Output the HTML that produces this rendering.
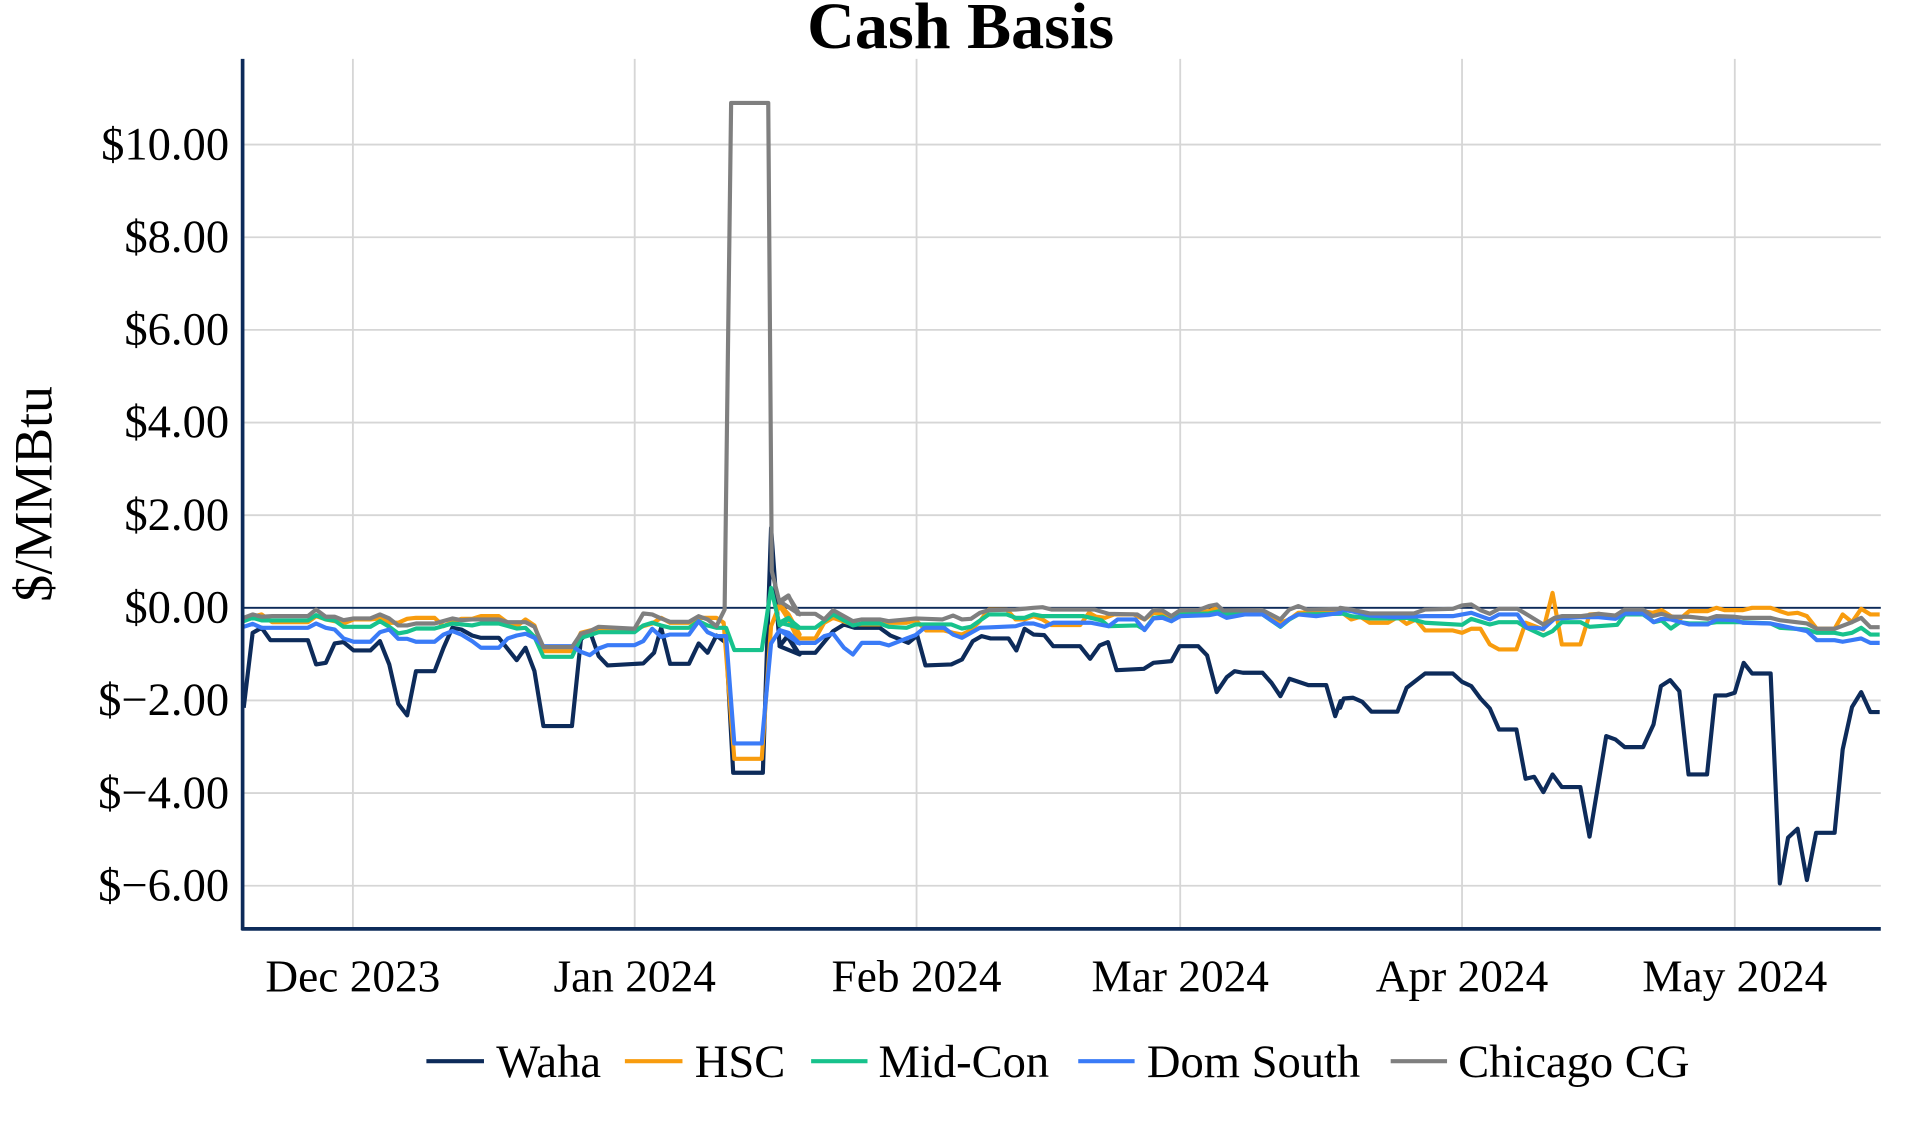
<!DOCTYPE html>
<html><head><meta charset="utf-8"><style>
html,body{margin:0;padding:0;background:#fff;}
svg{display:block;}
text{font-family:"Liberation Serif",serif;fill:#000;}
</style></head><body>
<svg id="s" width="1920" height="1128" viewBox="0 0 1567 920.5" preserveAspectRatio="none" xmlns="http://www.w3.org/2000/svg">
<g id="grid" stroke="#d6d6d6" stroke-width="1.5"></g>
<line x1="198" y1="496" x2="1535" y2="496" stroke="#0d2b5a" stroke-width="1.5"/>
<g id="series" fill="none" stroke-width="3.4" stroke-linejoin="round"></g>
<line x1="198" y1="48" x2="198" y2="759" stroke="#0d2b5a" stroke-width="3"/>
<line x1="197" y1="758" x2="1535" y2="758" stroke="#0d2b5a" stroke-width="3"/>
<text x="784" y="39" text-anchor="middle" font-size="54" font-weight="bold">Cash Basis</text>
<text transform="translate(42,403) rotate(-90)" text-anchor="middle" font-size="44">$/MMBtu</text>
<g id="ylab" font-size="38" text-anchor="end"></g>
<g id="xlab" font-size="37" text-anchor="middle"></g>
<g font-size="38">
<line x1="348" y1="866" x2="395" y2="866" stroke="#0d2b5a" stroke-width="3.4"/><text x="405" y="879">Waha</text>
<line x1="510" y1="866" x2="557" y2="866" stroke="#f89c0e" stroke-width="3.4"/><text x="567" y="879">HSC</text>
<line x1="662" y1="866" x2="708" y2="866" stroke="#17c28c" stroke-width="3.4"/><text x="717" y="879">Mid-Con</text>
<line x1="880" y1="866" x2="926" y2="866" stroke="#3a7bf7" stroke-width="3.4"/><text x="936" y="879">Dom South</text>
<line x1="1135" y1="866" x2="1181" y2="866" stroke="#7f7f7f" stroke-width="3.4"/><text x="1190" y="879">Chicago CG</text>
</g>
</svg>
<script>
var NS="http://www.w3.org/2000/svg";
function el(t,a,p,txt){var e=document.createElementNS(NS,t);for(var k in a)e.setAttribute(k,a[k]);if(txt)e.textContent=txt;p.appendChild(e);return e;}
var grid=document.getElementById('grid'),yl=document.getElementById('ylab'),xl=document.getElementById('xlab');
function Y(v){return 496-v*37.8;}
function X(d){return 288+d*7.42;}
for(var v=10;v>=-6;v-=2){var y=Y(v);el('line',{x1:198,y1:y,x2:1535,y2:y},grid);
 var s=v<0?"$\u2212"+Math.abs(v).toFixed(2):"$"+v.toFixed(2);el('text',{x:187,y:y+12},yl,s);}
var months=[["Dec 2023",0],["Jan 2024",31],["Feb 2024",62],["Mar 2024",91],["Apr 2024",122],["May 2024",152]];
months.forEach(function(m){var x=X(m[1]);el('line',{x1:x,y1:48,x2:x,y2:758},grid);el('text',{x:x,y:809},xl,m[0]);});
function c2(p){return [(p[0]-316)/25.48,-(p[1]-265)/139];}
function c3(p){return [62+(p[0]-383)/25.41,-(p[1]-265)/139];}
function c4(p){return [122+(p[0]-330)/24.6,-(p[1]-265)/139];}
function build(a,b,c){var pts=[];a.forEach(function(p){pts.push(c2(p));});b.forEach(function(p){pts.push(c3(p));});c.forEach(function(p){pts.push(c4(p));});
 pts=pts.filter(function(p){return X(p[0])>=197&&X(p[0])<=1536;});
 return pts.map(function(p,i){return (i?"L":"M")+X(p[0]).toFixed(1)+","+Y(p[1]).toFixed(1);}).join("");}
var S={};
S.waha=[[[10,565],[35,340],[60,325],[85,362],[190,362],[213,435],[240,430],[265,372],[290,368],[318,393],[365,393],[392,365],[418,435],[443,553],[468,588],[493,455],[545,455],[570,385],[595,325],[620,330],[650,348],[675,355],[725,355],[775,422],[800,385],[825,455],[850,620],[930,620],[955,360],[980,335],[1005,410],[1030,438],[1130,432],[1160,400],[1180,325],[1205,433],[1258,433],[1285,372],[1310,400],[1335,348],[1362,370],[1382,760],[1465,760],[1488,25],[1512,380],[1535,350],[1568,405]],
[[0,380],[22,350],[50,400],[100,400],[150,335],[180,315],[210,325],[280,325],[310,348],[360,370],[385,348],[408,438],[480,435],[510,420],[540,365],[565,350],[590,357],[640,357],[662,393],[685,328],[710,345],[740,347],[765,380],[840,380],[868,418],[895,378],[918,368],[942,452],[1018,448],[1045,430],[1095,425],[1118,380],[1170,380],[1195,408],[1222,518],[1250,473],[1272,455],[1295,460],[1350,460],[1375,490],[1400,530],[1425,478],[1478,497],[1528,497],[1553,590],[1568,545]],
[[0,565],[10,537],[35,535],[60,547],[85,577],[155,577],[180,505],[230,462],[305,462],[330,487],[355,500],[380,537],[405,567],[430,630],[477,630],[502,778],[525,772],[550,818],[575,765],[600,803],[650,803],[675,952],[720,650],[745,660],[770,683],[820,683],[848,615],[868,500],[893,482],[918,515],[943,765],[993,765],[1015,528],[1045,528],[1068,520],[1092,430],[1115,462],[1165,462],[1190,1092],[1212,955],[1238,928],[1263,1082],[1288,940],[1338,940],[1360,690],[1385,563],[1410,518],[1435,578],[1460,578]]];
S.hsc=[[[10,300],[35,292],[60,285],[90,308],[190,308],[213,290],[240,300],[265,305],[290,312],[318,300],[365,300],[392,297],[418,310],[443,310],[468,298],[493,295],[545,295],[570,320],[595,308],[620,298],[650,298],[675,290],[725,290],[750,310],[775,320],[800,300],[825,318],[850,395],[930,395],[955,340],[980,333],[1005,330],[1105,330],[1130,320],[1155,312],[1180,295],[1205,310],[1258,310],[1285,295],[1335,295],[1355,310],[1385,718],[1462,718],[1488,320],[1512,255],[1537,285],[1568,345]],
[[0,258],[25,300],[50,357],[100,357],[125,310],[150,295],[205,315],[280,315],[305,310],[355,310],[380,302],[410,333],[460,333],[485,340],[510,345],[535,332],[560,305],[585,270],[635,270],[660,300],[685,300],[710,290],[735,300],[760,317],[840,317],[865,280],[885,292],[910,295],[935,285],[990,285],[1020,300],[1045,280],[1070,282],[1095,300],[1120,280],[1200,275],[1225,265],[1250,285],[1300,280],[1350,280],[1400,310],[1425,300],[1450,280],[1568,275]],
[[0,275],[30,300],[55,292],[80,310],[130,310],[155,293],[180,313],[205,300],[230,333],[305,333],[330,340],[355,328],[380,328],[405,375],[430,390],[477,390],[502,310],[550,330],[575,220],[600,375],[650,375],[675,285],[700,283],[725,290],[745,290],[770,270],[820,275],[845,280],[870,272],[895,290],[920,298],[945,275],[995,275],[1018,265],[1040,272],[1090,272],[1115,265],[1165,265],[1190,275],[1212,283],[1238,280],[1263,290],[1290,328],[1338,328],[1360,285],[1385,308],[1410,268],[1435,285],[1460,285]]];
S.mid=[[[10,305],[35,295],[60,303],[190,303],[213,287],[240,300],[265,303],[290,322],[365,322],[392,305],[418,322],[443,342],[468,337],[493,327],[545,327],[595,312],[650,318],[675,312],[725,312],[775,327],[800,325],[825,352],[850,412],[930,412],[955,355],[980,347],[1005,338],[1105,338],[1130,318],[1155,310],[1180,318],[1205,325],[1258,325],[1285,305],[1310,318],[1335,325],[1362,325],[1385,392],[1462,392],[1488,205],[1512,318],[1537,298],[1568,325]],
[[0,310],[25,295],[50,325],[100,325],[150,285],[205,318],[230,312],[280,312],[305,322],[355,325],[380,315],[480,315],[510,327],[535,322],[585,285],[635,285],[660,295],[685,295],[710,285],[735,290],[850,290],[900,303],[920,320],[1000,318],[1020,330],[1045,295],[1070,292],[1095,305],[1120,285],[1200,282],[1230,275],[1260,285],[1350,285],[1400,322],[1425,300],[1450,285],[1568,283]],
[[0,280],[30,290],[80,297],[150,297],[180,295],[230,310],[330,316],[355,298],[405,315],[430,308],[480,308],[505,325],[550,348],[575,335],[600,308],[650,308],[675,322],[750,316],[770,285],[820,285],[850,308],[870,303],[895,327],[920,308],[945,312],[993,312],[1018,308],[1090,308],[1165,312],[1190,325],[1263,330],[1290,340],[1338,340],[1360,345],[1385,340],[1410,325],[1435,345],[1460,345]]];
S.dom=[[[10,322],[35,313],[60,325],[190,325],[213,312],[240,325],[265,330],[290,357],[318,367],[365,367],[392,338],[418,330],[443,358],[468,358],[493,367],[545,367],[570,345],[595,335],[620,345],[650,365],[675,385],[725,385],[750,357],[775,348],[800,343],[825,355],[850,380],[930,380],[955,397],[980,407],[1005,387],[1030,377],[1105,377],[1130,365],[1155,328],[1180,352],[1205,345],[1258,345],[1285,305],[1310,338],[1335,350],[1362,350],[1385,672],[1462,672],[1488,372],[1512,332],[1537,340],[1568,372]],
[[0,332],[25,340],[50,370],[100,370],[125,350],[150,343],[180,385],[205,405],[230,370],[280,370],[305,378],[355,357],[380,347],[405,325],[460,325],[485,345],[510,355],[560,325],[660,320],[685,312],[710,312],[740,322],[765,310],[870,310],[920,320],[945,300],[995,300],[1020,332],[1045,297],[1070,295],[1095,305],[1120,290],[1200,287],[1225,282],[1250,295],[1300,285],[1350,285],[1400,320],[1425,298],[1450,285],[1500,290],[1568,280]],
[[0,270],[30,275],[80,288],[150,293],[230,290],[305,290],[355,280],[405,300],[430,285],[480,285],[505,325],[530,325],[550,328],[580,298],[650,293],[700,293],[745,298],[770,282],[820,282],[848,308],[870,298],[895,300],[945,315],[995,315],[1018,300],[1068,302],[1090,310],[1165,312],[1190,318],[1263,335],[1290,362],[1338,362],[1360,367],[1410,357],[1435,370],[1460,370]]];
S.chi=[[[10,295],[35,285],[60,292],[90,290],[190,290],[213,270],[240,292],[265,292],[290,302],[318,297],[365,297],[392,285],[418,297],[443,318],[468,318],[493,312],[545,312],[595,297],[620,302],[650,300],[725,300],[750,308],[800,308],[825,322],[850,383],[930,383],[955,343],[980,335],[1005,322],[1105,328],[1130,282],[1155,285],[1180,297],[1205,307],[1258,307],[1285,290],[1310,300],[1335,320],[1358,270],[1376,-1250],[1462,-1250],[1480,-1250],[1490,155],[1512,250],[1537,230],[1568,285]],
[[0,245],[25,228],[50,283],[100,283],[125,300],[150,272],[205,305],[230,300],[280,300],[305,305],[355,300],[380,297],[455,300],[485,288],[510,300],[535,298],[560,280],[585,272],[660,270],[710,265],[735,263],[760,270],[880,270],[920,283],[1000,285],[1020,300],[1045,272],[1070,273],[1095,290],[1120,272],[1170,272],[1200,260],[1222,255],[1240,273],[1350,272],[1400,300],[1425,270],[1450,260],[1475,270],[1568,268]],
[[0,265],[30,270],[80,282],[200,282],[230,270],[305,268],[330,258],[355,255],[380,272],[405,283],[430,268],[480,268],[550,315],[580,295],[600,290],[650,290],[700,283],[745,288],[770,270],[820,270],[845,290],[870,283],[895,292],[945,292],[995,298],[1018,290],[1068,292],[1090,295],[1165,295],[1190,302],[1263,312],[1290,328],[1338,328],[1385,308],[1410,295],[1435,323],[1460,323]]];
var cols={waha:"#0d2b5a",hsc:"#f89c0e",mid:"#17c28c",dom:"#3a7bf7",chi:"#7f7f7f"};
var g=document.getElementById('series');
["waha","hsc","mid","dom","chi"].forEach(function(k){el('path',{d:build(S[k][0],S[k][1],S[k][2]),stroke:cols[k]},g);});
</script>
</body></html>
